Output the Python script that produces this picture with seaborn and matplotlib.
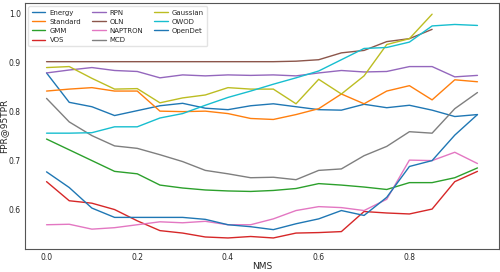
import numpy as np
import pandas as pd
import matplotlib
matplotlib.use("Agg")
import matplotlib.pyplot as plt
import seaborn as sns

# Valores de NMS (eixo x)
nms = [0.00, 0.05, 0.10, 0.15, 0.20, 0.25, 0.30, 0.35, 0.40, 0.45,
       0.50, 0.55, 0.60, 0.65, 0.70, 0.75, 0.80, 0.85, 0.90, 0.95]

methods = ["Energy", "Standard", "GMM", "VOS", "RPN", "OLN",
           "NAPTRON", "MCD", "Gaussian", "OWOD", "OpenDet"]

energy = [0.878, 0.818, 0.809, 0.791, 0.801, 0.811, 0.816, 0.806, 0.803, 0.811,
          0.815, 0.809, 0.803, 0.802, 0.814, 0.807, 0.812, 0.802, 0.789, 0.793]
standard = [0.841, 0.845, 0.848, 0.841, 0.841, 0.800, 0.799, 0.800, 0.795, 0.785,
            0.783, 0.793, 0.805, 0.835, 0.815, 0.841, 0.852, 0.823, 0.864, 0.860]
gmm = [0.743, 0.721, 0.699, 0.677, 0.672, 0.649, 0.643, 0.639, 0.637, 0.636,
       0.638, 0.642, 0.652, 0.649, 0.645, 0.640, 0.654, 0.654, 0.664, 0.684]
vos = [0.656, 0.617, 0.612, 0.599, 0.576, 0.556, 0.551, 0.543, 0.541, 0.544,
       0.541, 0.551, 0.552, 0.554, 0.595, 0.592, 0.590, 0.600, 0.656, 0.677]
rpn = [0.878, 0.884, 0.889, 0.883, 0.881, 0.868, 0.874, 0.872, 0.874, 0.873,
       0.874, 0.872, 0.878, 0.883, 0.880, 0.881, 0.891, 0.891, 0.870, 0.873]
oln = [0.901, 0.901, 0.901, 0.901, 0.901, 0.901, 0.901, 0.901, 0.901, 0.901,
       0.901, 0.902, 0.905, 0.919, 0.924, 0.942, 0.948, 0.967]
naptron = [0.568, 0.569, 0.559, 0.562, 0.568, 0.574, 0.572, 0.575, 0.568, 0.568,
           0.580, 0.597, 0.605, 0.603, 0.597, 0.620, 0.700, 0.699, 0.716, 0.693]
mcd = [0.826, 0.778, 0.750, 0.729, 0.724, 0.711, 0.697, 0.679, 0.672, 0.664,
       0.665, 0.660, 0.679, 0.682, 0.709, 0.728, 0.758, 0.755, 0.805, 0.838]
gaussian = [0.889, 0.891, 0.867, 0.845, 0.846, 0.817, 0.827, 0.833, 0.848, 0.845,
            0.845, 0.815, 0.865, 0.835, 0.872, 0.936, 0.948, 0.998]
owod = [0.755, 0.755, 0.756, 0.768, 0.768, 0.786, 0.795, 0.812, 0.828, 0.841,
        0.855, 0.868, 0.882, 0.905, 0.928, 0.930, 0.941, 0.974, 0.977, 0.975]
opendet = [0.676, 0.644, 0.602, 0.583, 0.583, 0.583, 0.583, 0.579, 0.568, 0.564,
           0.558, 0.570, 0.580, 0.597, 0.587, 0.624, 0.687, 0.699, 0.751, 0.793]

series = [energy, standard, gmm, vos, rpn, oln, naptron, mcd, gaussian, owod, opendet]

# Montar tabela longa para o seaborn
rows = []
for name, vals in zip(methods, series):
    for x, y in zip(nms, vals):
        rows.append({"NMS": x, "FPR@95TPR": y, "method": name})
df = pd.DataFrame(rows)

sns.set_style("white")
plt.rcParams["font.family"] = ["DejaVu Sans"]

palette = sns.color_palette("tab10", 10)
palette = palette + [palette[0]]

fig, ax = plt.subplots(figsize=(5, 2.72), dpi=100)
fig.subplots_adjust(left=0.05, right=0.998, bottom=0.084, top=0.989)

sns.lineplot(data=df, x="NMS", y="FPR@95TPR", hue="method", hue_order=methods,
             palette=palette, linewidth=1.0, ax=ax, sort=False)

ax.set_xticks([0.0, 0.2, 0.4, 0.6, 0.8])
ax.set_yticks([0.6, 0.7, 0.8, 0.9, 1.0])
ax.tick_params(axis="both", labelsize=5.5, length=1.5, width=0.6, pad=1.5)
ax.set_xlabel("NMS", fontsize=6.5, labelpad=0)
ax.set_ylabel("FPR@95TPR", fontsize=6.5, labelpad=0.5)
for s in ax.spines.values():
    s.set_color("#555555")
    s.set_linewidth(0.8)

ax.legend(loc="upper left", ncol=3, fontsize=5, frameon=True,
          handlelength=2.0, handletextpad=0.6, columnspacing=1.5,
          labelspacing=0.45, borderpad=0.45, edgecolor="#dddddd")

plt.savefig("out.png", dpi=100)
plt.close()
